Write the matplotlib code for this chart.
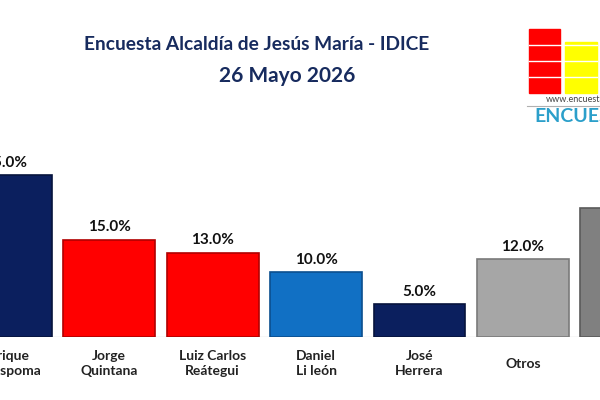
import matplotlib
matplotlib.use('Agg')
import matplotlib.pyplot as plt
from matplotlib.patches import Rectangle

plt.rcParams['font.family'] = ['Lato', 'DejaVu Sans']

# datos de la encuesta
candidatos = ['Enrique\nOcrospoma', 'Jorge\nQuintana', 'Luiz Carlos\nReátegui',
              'Daniel\nLi león', 'José\nHerrera', 'Otros', 'No\nprecisa']
porcentajes = [25.0, 15.0, 13.0, 10.0, 5.0, 12.0, 20.0]
colores = ['#0b1f5e', '#ff0000', '#ff0000', '#1170c4', '#0b1f5e', '#a6a6a6', '#808080']
bordes = ['#07143d', '#b00000', '#b00000', '#0b4f8f', '#07143d', '#7a7a7a', '#5a5a5a']

fig = plt.figure(figsize=(6, 4), dpi=100)
fig.patch.set_facecolor('white')

# eje principal: la imagen original esta recortada a los lados
ax = fig.add_axes([0, 63.3 / 400, 1, (400 - 63.3) / 400])
x = list(range(len(candidatos)))
ax.bar(x, porcentajes, width=0.887, color=colores, edgecolor=bordes, linewidth=1.2, zorder=2)
ax.set_xlim(-5.85 / 103.4, (600 - 5.85) / 103.4)
ax.set_ylim(0, 336.7 / 6.45)
ax.axis('off')
ax.axhline(0, color='#d9d9d9', linewidth=1, zorder=1)

for xi, v, nombre in zip(x, porcentajes, candidatos):
    ax.annotate(f'{v:.1f}%', xy=(xi, v), xytext=(0, 9), textcoords='offset points',
                ha='center', va='center', fontsize=11, fontweight='bold', color='#111111')
    ax.annotate(nombre, xy=(xi, 0.01), xytext=(0, -19.5), textcoords='offset points',
                ha='center', va='center', fontsize=10, fontweight='bold', color='#222222',
                linespacing=1.25)

# titulo
fig.text(256.5 / 600, 1 - 44 / 400, 'Encuesta Alcaldía de Jesús María - IDICE',
         ha='center', va='center', fontsize=13.8, fontweight='bold', color='#172b5e')
fig.text(287 / 600, 1 - 76.5 / 400, '26 Mayo 2026',
         ha='center', va='center', fontsize=15, fontweight='bold', color='#172b5e')

# logo arriba a la derecha
lg = fig.add_axes([0, 0, 1, 1], facecolor='none')
lg.set_xlim(0, 600)
lg.set_ylim(400, 0)
lg.axis('off')
lg.add_patch(Rectangle((529, 29), 31, 64, color='#ff0000'))
lg.add_patch(Rectangle((565, 42), 32, 51, color='#ffff00'))
for yl in [45, 61, 77]:
    lg.plot([529, 597], [yl, yl], color='white', linewidth=1)
lg.plot([527, 600], [105.5, 105.5], color='#b0b0b0', linewidth=0.8)
lg.text(546, 100, 'www.encuesta.pe', fontsize=6.5, color='#444444', va='center', ha='left')
lg.text(534, 117, 'ENCUESTA', fontsize=14, fontweight='bold', color='#2b9fca',
        va='center', ha='left')

fig.savefig('out.png', dpi=100)
